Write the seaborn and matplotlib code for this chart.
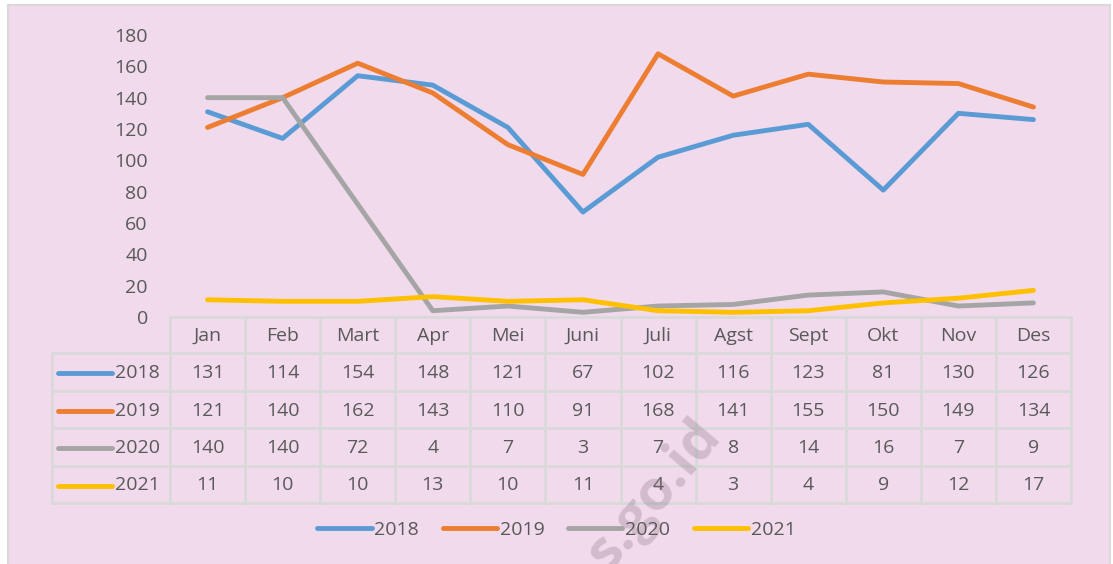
import matplotlib
matplotlib.use('Agg')
import matplotlib.pyplot as plt
from matplotlib.patches import Rectangle
from matplotlib.lines import Line2D
import seaborn as sns
import pandas as pd

months = ["Jan", "Feb", "Mart", "Apr", "Mei", "Juni", "Juli", "Agst", "Sept", "Okt", "Nov", "Des"]
series_names = ["2018", "2019", "2020", "2021"]
v2018 = [131, 114, 154, 148, 121, 67, 102, 116, 123, 81, 130, 126]
v2019 = [121, 140, 162, 143, 110, 91, 168, 141, 155, 150, 149, 134]
v2020 = [140, 140, 72, 4, 7, 3, 7, 8, 14, 16, 7, 9]
v2021 = [11, 10, 10, 13, 10, 11, 4, 3, 4, 9, 12, 17]
yticks = [0, 20, 40, 60, 80, 100, 120, 140, 160, 180]
watermark = "s.go.id"

series_values = [v2018, v2019, v2020, v2021]
colors = ["#5B9BD5", "#ED7D31", "#A5A5A5", "#FFC000"]
PINK = "#F0DAEC"
GRID = "#D9D9D9"
TXT = "#595959"
FS = 14

sns.set_theme(style="white")
plt.rcParams['font.family'] = ['Open Sans', 'DejaVu Sans']

W, H = 1113, 564
fig = plt.figure(figsize=(W / 100, H / 100), dpi=100)
fig.patch.set_facecolor("white")
fig.patches.append(Rectangle((8 / W, -0.02), (1110 - 8) / W, 1.02 - 5 / H,
                             transform=fig.transFigure, facecolor=PINK,
                             edgecolor=GRID, lw=1.5, zorder=-10))

rows = []
for name, vals in zip(series_names, series_values):
    for i, (m, v) in enumerate(zip(months, vals)):
        rows.append({"idx": i, "month": m, "value": v, "year": name})
df = pd.DataFrame(rows)

ax = fig.add_axes([170 / W, 1 - 317 / H, 901 / W, (317 - 35) / H])
ax.set_facecolor("none")
sns.lineplot(data=df, x="idx", y="value", hue="year", palette=colors,
             linewidth=3.5, legend=False, ax=ax, zorder=5)
for ln in ax.lines:
    ln.set_solid_capstyle("round")
    ln.set_solid_joinstyle("round")
ax.set_xlim(-0.5, len(months) - 0.5)
ax.set_ylim(0, 180)
ax.set_yticks(yticks)
ax.set_yticklabels([str(t) for t in yticks], color=TXT, fontsize=FS)
ax.set_xticks([])
ax.set_xlabel("")
ax.set_ylabel("")
ax.tick_params(axis="y", length=0, pad=16)
for s in ax.spines.values():
    s.set_visible(False)

fig.canvas.draw()
col_edges = [ax.transData.transform((i - 0.5, 0))[0] for i in range(len(months) + 1)]
col_centers = [ax.transData.transform((i, 0))[0] for i in range(len(months))]

oax = fig.add_axes([0, 0, 1, 1], zorder=-1)
oax.set_xlim(0, W)
oax.set_ylim(0, H)
oax.axis("off")
oax.patch.set_alpha(0)

row_tops = [317, 353, 391, 428, 466, 503]
yy = lambda p: H - p
left_px = 52

# grid
oax.plot([col_edges[0], col_edges[-1]], [yy(row_tops[0])] * 2, color=GRID, lw=2, zorder=1)
for r in row_tops[1:]:
    oax.plot([left_px, col_edges[-1]], [yy(r)] * 2, color=GRID, lw=2, zorder=1)
for x in col_edges:
    oax.plot([x, x], [yy(row_tops[0]), yy(row_tops[-1])], color=GRID, lw=2, zorder=1)
oax.plot([left_px, left_px], [yy(row_tops[1]), yy(row_tops[-1])], color=GRID, lw=2, zorder=1)

# header
hc = yy((row_tops[0] + row_tops[1]) / 2 + 1)
for xc, m in zip(col_centers, months):
    oax.text(xc, hc, m, ha="center", va="center", fontsize=FS, color=TXT)

# rows
for k, (name, vals, c) in enumerate(zip(series_names, series_values, colors)):
    rc = yy((row_tops[k + 1] + row_tops[k + 2]) / 2 + 1)
    oax.plot([58, 112], [rc, rc], color=c, lw=3.5, solid_capstyle="round")
    oax.text(115, rc, name, ha="left", va="center", fontsize=FS, color=TXT)
    for xc, v in zip(col_centers, vals):
        oax.text(xc, rc, str(v), ha="center", va="center", fontsize=FS, color=TXT)

# watermark
oax.text(722, yy(436), watermark, rotation=50, rotation_mode="anchor", ha="right", va="baseline",
         fontsize=40, fontweight="bold", color="#7F6A7A", alpha=0.28, zorder=10)

handles = [Line2D([0], [0], color=c, lw=3.5, solid_capstyle="round") for c in colors]
fig.legend(handles, series_names, loc="center", bbox_to_anchor=(0.5, 1 - 530 / H),
           ncol=4, frameon=False, handlelength=2.8, handletextpad=0.15,
           columnspacing=1.2, fontsize=FS, labelcolor=TXT)

fig.savefig("out.png", dpi=100, facecolor=fig.get_facecolor())
